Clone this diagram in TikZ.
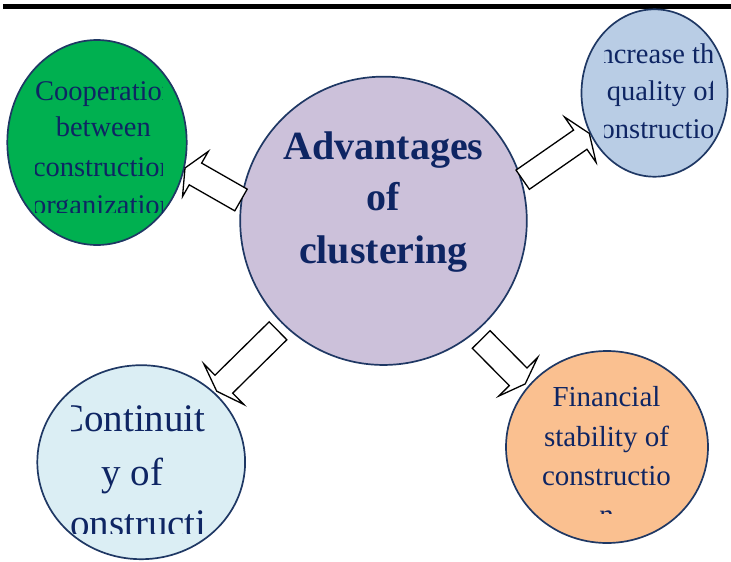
\documentclass[tikz,border=0pt]{standalone}
\usepackage{fontspec}
\setmainfont{Liberation Serif}
\usetikzlibrary{calc,shapes.geometric}
\definecolor{navy}{HTML}{0E2563}
\definecolor{edge}{HTML}{1F3864}
\definecolor{cgreen}{HTML}{00B050}
\definecolor{cblue}{HTML}{B9CDE5}
\definecolor{clav}{HTML}{CCC1DA}
\definecolor{clight}{HTML}{DBEEF4}
\definecolor{corange}{HTML}{FAC090}
\tikzset{
  bubble/.style={draw=edge, line width=1.7pt, shape=ellipse, inner sep=0pt, outer sep=0pt},
  small/.style={text=navy, inner sep=0pt, anchor=base, font=\fontsize{28.5}{34}\selectfont},
  smallw/.style={small, anchor=base west},
  big/.style={text=navy, inner sep=0pt, anchor=base, font=\fontsize{39}{46}\selectfont},
  bigw/.style={big, anchor=base west},
  title/.style={text=navy, inner sep=0pt, anchor=base, font=\fontsize{40}{48}\selectfont\bfseries},
  blockarrow/.style={draw=black, fill=white, line width=1.3pt, line join=miter}
}
\newcommand\blockarr[5]{%
  \coordinate (#1h) at ($(#2)!#5!(#1)$);
  \draw[blockarrow] ($(#1)!#3!90:(#2)$) -- ($(#1h)!#3!90:(#2)$) -- ($(#1h)!#4!90:(#2)$)
    -- (#2) -- ($(#1h)!#4!-90:(#2)$) -- ($(#1h)!#3!-90:(#2)$) -- ($(#1)!#3!-90:(#2)$) -- cycle;
}
\begin{document}
\begin{tikzpicture}[x=1pt,y=-1pt]
\useasboundingbox (0,0) rectangle (731,562);
\fill[white] (0,0) rectangle (731,562);
% top bar
\fill[black] (3,4) rectangle (731,8.5);

% bubbles
\node[bubble, fill=clav, minimum width=286.6pt, minimum height=288.3pt] (c) at (383.5,220.8) {};
\node[bubble, fill=cgreen, minimum width=179.4pt, minimum height=205pt] (g) at (97,142.5) {};
\node[bubble, fill=cblue, minimum width=146pt, minimum height=167.4pt] (q) at (654.5,93) {};
\node[bubble, fill=clight, minimum width=207.8pt, minimum height=194pt] (k) at (141.2,462.2) {};
\node[bubble, fill=corange, minimum width=202pt, minimum height=192pt] (f) at (607,447) {};

% central text
\node[title] (t1) at (383.5,159) {Advantages};
\node[title] (t2) at (383.5,210) {of};
\node[title] (t3) at (383.5,263) {clustering};

% green text
\begin{scope}
\clip (35,60) rectangle (162,212.7);
\node[smallw] (g1) at (35,100) {Cooperation};
\node[small] (g2) at (103.3,136.7) {between};
\node[smallw] (g3) at (32.8,176.7) {construction};
\node[smallw] (g4) at (31.8,214) {organizations};
\end{scope}

% blue text
\begin{scope}
\clip (604.3,30) rectangle (712.7,150);
\node[small] (q1) at (658.5,63.3) {Increase the};
\node[small] (q2) at (662,100) {quality of};
\node[small] (q3) at (658.5,138) {construction};
\end{scope}

% light blue text
\begin{scope}
\clip (71.7,390) rectangle (206.7,533.3);
\node[bigw] (k1) at (58,431.7) {Continuit};
\node[big] (k2) at (132.5,485) {y of};
\node[bigw] (k3) at (52.5,536) {constructi};
\end{scope}

% orange text
\begin{scope}
\clip (520,370) rectangle (700,513.3);
\node[small, font=\fontsize{29}{34}\selectfont] (f1) at (606.5,406.7) {Financial};
\node[small, font=\fontsize{29}{34}\selectfont] (f2) at (606.5,446.7) {stability of};
\node[small, font=\fontsize{29}{34}\selectfont] (f3) at (606.5,485) {constructio};
\node[small, font=\fontsize{29}{34}\selectfont] (f4) at (606.5,524) {n};
\end{scope}

% arrows
\coordinate (a1t) at (241,200);   \coordinate (a1p) at (185,168);
\coordinate (a2t) at (522.7,179.7); \coordinate (a2p) at (589.3,133.4);
\coordinate (a3t) at (278,330.8); \coordinate (a3p) at (216.7,391.2);
\coordinate (a4t) at (481.2,339.5); \coordinate (a4p) at (525.2,383.9);
\blockarr{a1t}{a1p}{12.5pt}{26pt}{12pt}
\blockarr{a2t}{a2p}{11.7pt}{27.7pt}{11pt}
\blockarr{a3t}{a3p}{12.6pt}{28.5pt}{10pt}
\blockarr{a4t}{a4p}{12.5pt}{27.4pt}{10pt}
\end{tikzpicture}
\end{document}
